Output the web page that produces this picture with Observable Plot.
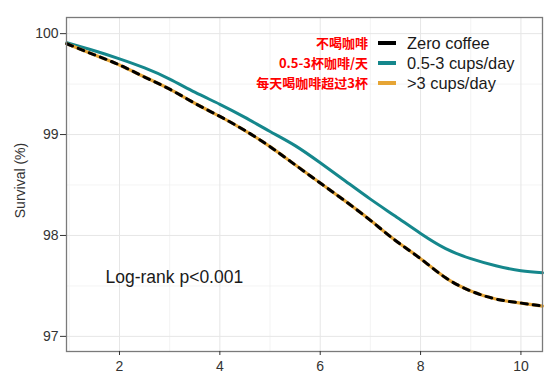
<!DOCTYPE html>
<html>
<head>
<meta charset="utf-8">
<script src="https://cdn.jsdelivr.net/npm/d3@7"></script>
<script src="https://cdn.jsdelivr.net/npm/@observablehq/plot@0.6"></script>
<style>
  html, body { margin: 0; padding: 0; background: #fff; }
  #wrap { position: relative; width: 554px; height: 383px; }
  #legend { position: absolute; left: 0; top: 0; width: 554px; pointer-events: none; }
  .row { position: absolute; left: 0; width: 554px; height: 20px; }
  .cn { position: absolute; right: 186px; top: 0; line-height: 20px; font-family: "Noto Sans CJK SC", sans-serif; font-weight: bold; font-size: 13px; color: #ff0000; white-space: nowrap; }
  .sw { position: absolute; left: 378px; top: 8px; width: 18px; height: 4px; }
  .en { position: absolute; left: 407px; top: 0; line-height: 20px; font-family: "Liberation Sans", Arial, sans-serif; font-size: 16.4px; color: #1a1a1a; white-space: nowrap; }
</style>
</head>
<body>
<div id="wrap"><div id="chart"></div><div id="legend"></div></div>
<script>
const years      = [0.95,  1.5,   2,     2.5,   3,     3.5,   4,     4.5,   5,     5.5,   6,     6.5,   7,     7.5,   8,     8.5,   9,     9.5,   10,    10.43];
const zeroCoffee = [99.90, 99.79, 99.69, 99.57, 99.45, 99.31, 99.18, 99.04, 98.88, 98.70, 98.52, 98.34, 98.15, 97.95, 97.77, 97.58, 97.45, 97.37, 97.33, 97.30];
const midCups    = [99.91, 99.83, 99.75, 99.66, 99.55, 99.42, 99.30, 99.17, 99.03, 98.89, 98.72, 98.54, 98.36, 98.19, 98.02, 97.87, 97.77, 97.70, 97.65, 97.63];
const highCups   = [99.90, 99.79, 99.69, 99.57, 99.45, 99.31, 99.18, 99.04, 98.88, 98.70, 98.52, 98.34, 98.15, 97.95, 97.77, 97.58, 97.45, 97.37, 97.33, 97.30];

const seriesNames = ["Zero coffee", "0.5-3 cups/day", ">3 cups/day"];
const seriesNamesCN = ["不喝咖啡", "0.5-3杯咖啡/天", "每天喝咖啡超过3杯"];
const seriesColors = ["#000000", "#15878c", "#e6a535"];

const xTicks = [2, 4, 6, 8, 10];
const xMinor = [1, 3, 5, 7, 9];
const yTicks = [97, 98, 99, 100];
const yMinor = [97.5, 98.5, 99.5];

const toRows = (vals) => years.map((t, i) => ({t, s: vals[i]}));

const chart = Plot.plot({
  width: 554,
  height: 383,
  marginLeft: 66,
  marginRight: 12,
  marginTop: 17,
  marginBottom: 32,
  style: {fontFamily: "'Liberation Sans', Arial, sans-serif", fontSize: "14px", background: "#fff"},
  x: {domain: [0.944, 10.43], label: null},
  y: {domain: [96.85, 100.16], label: null},
  marks: [
    Plot.gridX(xMinor, {stroke: "#efefef", strokeOpacity: 1, strokeWidth: 0.7}),
    Plot.gridY(yMinor, {stroke: "#efefef", strokeOpacity: 1, strokeWidth: 0.7}),
    Plot.gridX(xTicks, {stroke: "#e6e6e6", strokeOpacity: 1, strokeWidth: 1}),
    Plot.gridY(yTicks, {stroke: "#e6e6e6", strokeOpacity: 1, strokeWidth: 1}),
    Plot.lineY(toRows(midCups), {x: "t", y: "s", stroke: seriesColors[1], strokeWidth: 3, curve: "natural"}),
    Plot.lineY(toRows(highCups), {x: "t", y: "s", stroke: seriesColors[2], strokeWidth: 3.2, curve: "natural"}),
    Plot.lineY(toRows(zeroCoffee), {x: "t", y: "s", stroke: seriesColors[0], strokeWidth: 3, strokeDasharray: "6,6", curve: "natural"}),
    Plot.frame({stroke: "#7a7a7a", strokeWidth: 1.3}),
    Plot.axisX(xTicks, {tickSize: 4, tickPadding: 6, color: "#333", fontSize: 14, tickFormat: d => String(d), label: null}),
    Plot.axisY(yTicks, {tickSize: 6, tickPadding: 2, color: "#333", fontSize: 14, tickFormat: d => String(d), label: null}),
    Plot.text(["Survival (%)"], {frameAnchor: "left", rotate: -90, textAnchor: "middle", dx: -46, dy: -4, fontSize: 14, fill: "#333"}),
    Plot.text(["Log-rank p<0.001"], {frameAnchor: "top-left", textAnchor: "start", dx: 39, dy: 253, fontSize: 17.5, fill: "#1a1a1a"})
  ]
});
document.getElementById("chart").appendChild(chart);

const legend = document.getElementById("legend");
const rowTops = [33, 53, 73];
seriesNames.forEach((name, i) => {
  const row = document.createElement("div");
  row.className = "row";
  row.style.top = rowTops[i] + "px";
  row.innerHTML = `<span class="cn"></span><span class="sw"></span><span class="en"></span>`;
  row.querySelector(".cn").textContent = seriesNamesCN[i];
  row.querySelector(".sw").style.background = seriesColors[i];
  row.querySelector(".en").textContent = name;
  legend.appendChild(row);
});
</script>
</body>
</html>
